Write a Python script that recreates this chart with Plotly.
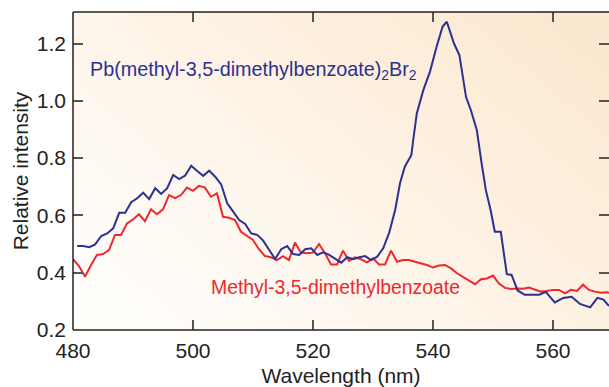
import numpy as np
import plotly.graph_objects as go

# --- data ---
red_wavelength = list(range(480, 571))
red_intensity = [
    0.447, 0.423, 0.386, 0.427, 0.462, 0.465, 0.479, 0.532, 0.532, 0.572,
    0.586, 0.604, 0.580, 0.621, 0.604, 0.621, 0.671, 0.660, 0.671, 0.697,
    0.686, 0.703, 0.697, 0.665, 0.677, 0.595, 0.592, 0.584, 0.543, 0.528,
    0.514, 0.482, 0.458, 0.454, 0.444, 0.458, 0.444, 0.505, 0.470, 0.468,
    0.470, 0.500, 0.468, 0.429, 0.429, 0.477, 0.441, 0.454, 0.447, 0.436,
    0.450, 0.429, 0.429, 0.477, 0.438, 0.444, 0.444, 0.438, 0.433, 0.427,
    0.418, 0.425, 0.427, 0.415, 0.398, 0.385, 0.370, 0.360, 0.377, 0.380,
    0.390, 0.362, 0.347, 0.343, 0.345, 0.344, 0.348, 0.340, 0.334, 0.336,
    0.340, 0.340, 0.328, 0.340, 0.336, 0.358, 0.340, 0.334, 0.330, 0.332,
    0.326,
]

blue_wavelength = [
    480.7, 481.7, 482.7, 483.7, 484.7, 485.7, 486.7, 487.7, 488.7, 489.7,
    490.7, 491.7, 492.7, 493.7, 494.7, 495.7, 496.7, 497.7, 498.7, 499.7,
    500.7, 501.7, 502.7, 503.7, 504.7, 505.7, 506.7, 507.7, 508.7, 509.7,
    510.7, 511.7, 512.7, 513.7, 514.7, 515.7, 516.7, 517.7, 518.7, 519.7,
    520.7, 521.7, 522.7, 523.7, 524.7, 525.7, 526.7, 527.7, 528.7, 529.7,
    530.7, 531.7, 532.7, 533.7, 534.5, 535.3, 536.4, 536.7, 537.3, 538.4,
    539.5, 540.6, 541.6, 542.3, 542.95, 543.5, 544.4, 545.5, 546.3, 547.3,
    548.1, 548.8, 549.6, 550.3, 551.3, 552.3, 553.1, 554.1, 555.3, 556.5,
    557.7, 558.8, 560.3, 561.7, 563.1, 564.5, 566.2, 567.4, 568.4, 569.2,
    570.0,
]
blue_intensity = [
    0.493, 0.493, 0.489, 0.499, 0.528, 0.537, 0.555, 0.609, 0.609, 0.646,
    0.660, 0.679, 0.657, 0.695, 0.675, 0.695, 0.741, 0.727, 0.739, 0.773,
    0.755, 0.738, 0.756, 0.735, 0.708, 0.642, 0.613, 0.584, 0.570, 0.537,
    0.532, 0.512, 0.479, 0.448, 0.482, 0.493, 0.465, 0.462, 0.482, 0.485,
    0.462, 0.471, 0.462, 0.450, 0.435, 0.454, 0.447, 0.454, 0.458, 0.444,
    0.456, 0.485, 0.540, 0.620, 0.712, 0.770, 0.811, 0.863, 0.956, 1.038,
    1.102, 1.189, 1.259, 1.276, 1.230, 1.200, 1.160, 1.014, 0.968, 0.898,
    0.782, 0.689, 0.619, 0.543, 0.543, 0.395, 0.392, 0.338, 0.323, 0.323,
    0.323, 0.333, 0.296, 0.312, 0.316, 0.291, 0.279, 0.312, 0.306, 0.287,
    0.280,
]

x_ticks = [480, 500, 520, 540, 560]
y_ticks = [0.2, 0.4, 0.6, 0.8, 1.0, 1.2]

X_RANGE = [480, 480 + 536 / 6]
Y_RANGE = [0.2, 1.31]

BLUE = "#2B3190"
RED = "#EE2830"
FONT = "Liberation Sans, Arial, sans-serif"

# background gradient (styling only)
gx = np.linspace(X_RANGE[0], X_RANGE[1], 40)
gy = np.linspace(Y_RANGE[0], Y_RANGE[1], 30)
u = (gx - X_RANGE[0]) / (X_RANGE[1] - X_RANGE[0])
v = (gy - Y_RANGE[0]) / (Y_RANGE[1] - Y_RANGE[0])
U, V = np.meshgrid(u, v)
Z = np.clip(0.7 * U + 0.5 * V - 0.12, 0, 1)

fig = go.Figure()
fig.add_trace(go.Heatmap(
    x=gx, y=gy, z=Z, zmin=0, zmax=1, zsmooth="best",
    colorscale=[[0, "#FFFDFA"], [1, "#FCE8D0"]],
    showscale=False, hoverinfo="skip",
))
fig.add_trace(go.Scatter(
    x=red_wavelength, y=red_intensity, mode="lines",
    line=dict(color=RED, width=2), showlegend=False,
))
fig.add_trace(go.Scatter(
    x=blue_wavelength, y=blue_intensity, mode="lines",
    line=dict(color=BLUE, width=2), showlegend=False,
))

fig.add_annotation(
    x=482.5, y=1.107, xref="x", yref="y", xanchor="left", yanchor="middle",
    text="Pb(methyl-3,5-dimethylbenzoate)<sub>2</sub>Br<sub>2</sub>",
    showarrow=False, font=dict(family=FONT, size=19.8, color=BLUE),
)
fig.add_annotation(
    x=502.7, y=0.35, xref="x", yref="y", xanchor="left", yanchor="middle",
    text="Methyl-3,5-dimethylbenzoate",
    showarrow=False, font=dict(family=FONT, size=19.4, color=RED),
)

# frame lines (left, top, bottom)
for x0, y0, x1, y1 in [(0, 0, 0, 1), (0, 1, 1.02, 1), (0, 0, 1.02, 0)]:
    fig.add_shape(type="line", xref="paper", yref="paper",
                  x0=x0, y0=y0, x1=x1, y1=y1,
                  line=dict(color="#222222", width=1.5), layer="above")

fig.update_layout(
    width=609, height=387,
    margin=dict(l=73, r=0, t=12, b=57),
    paper_bgcolor="white", plot_bgcolor="white",
    font=dict(family=FONT, color="#222222"),
    xaxis=dict(
        range=X_RANGE, tickvals=x_ticks, ticktext=[str(t) for t in x_ticks],
        ticks="inside", ticklen=10, tickwidth=1.5, tickcolor="#555555",
        mirror="ticks", showline=False, showgrid=False, zeroline=False,
        ticklabelstandoff=6,
        tickfont=dict(size=21, color="#222222"),
        title=dict(text="Wavelength (nm)", font=dict(size=21, color="#222222"), standoff=9),
    ),
    yaxis=dict(
        range=Y_RANGE, tickvals=y_ticks, ticktext=[f"{t:.1f}" for t in y_ticks],
        ticks="inside", ticklen=10, tickwidth=1.5, tickcolor="#555555",
        mirror="ticks", showline=False, showgrid=False, zeroline=False,
        ticklabelstandoff=6,
        tickfont=dict(size=21, color="#222222"),
        title=dict(text="Relative intensity", font=dict(size=21, color="#222222"), standoff=2),
    ),
)

fig.write_html("out.html")
